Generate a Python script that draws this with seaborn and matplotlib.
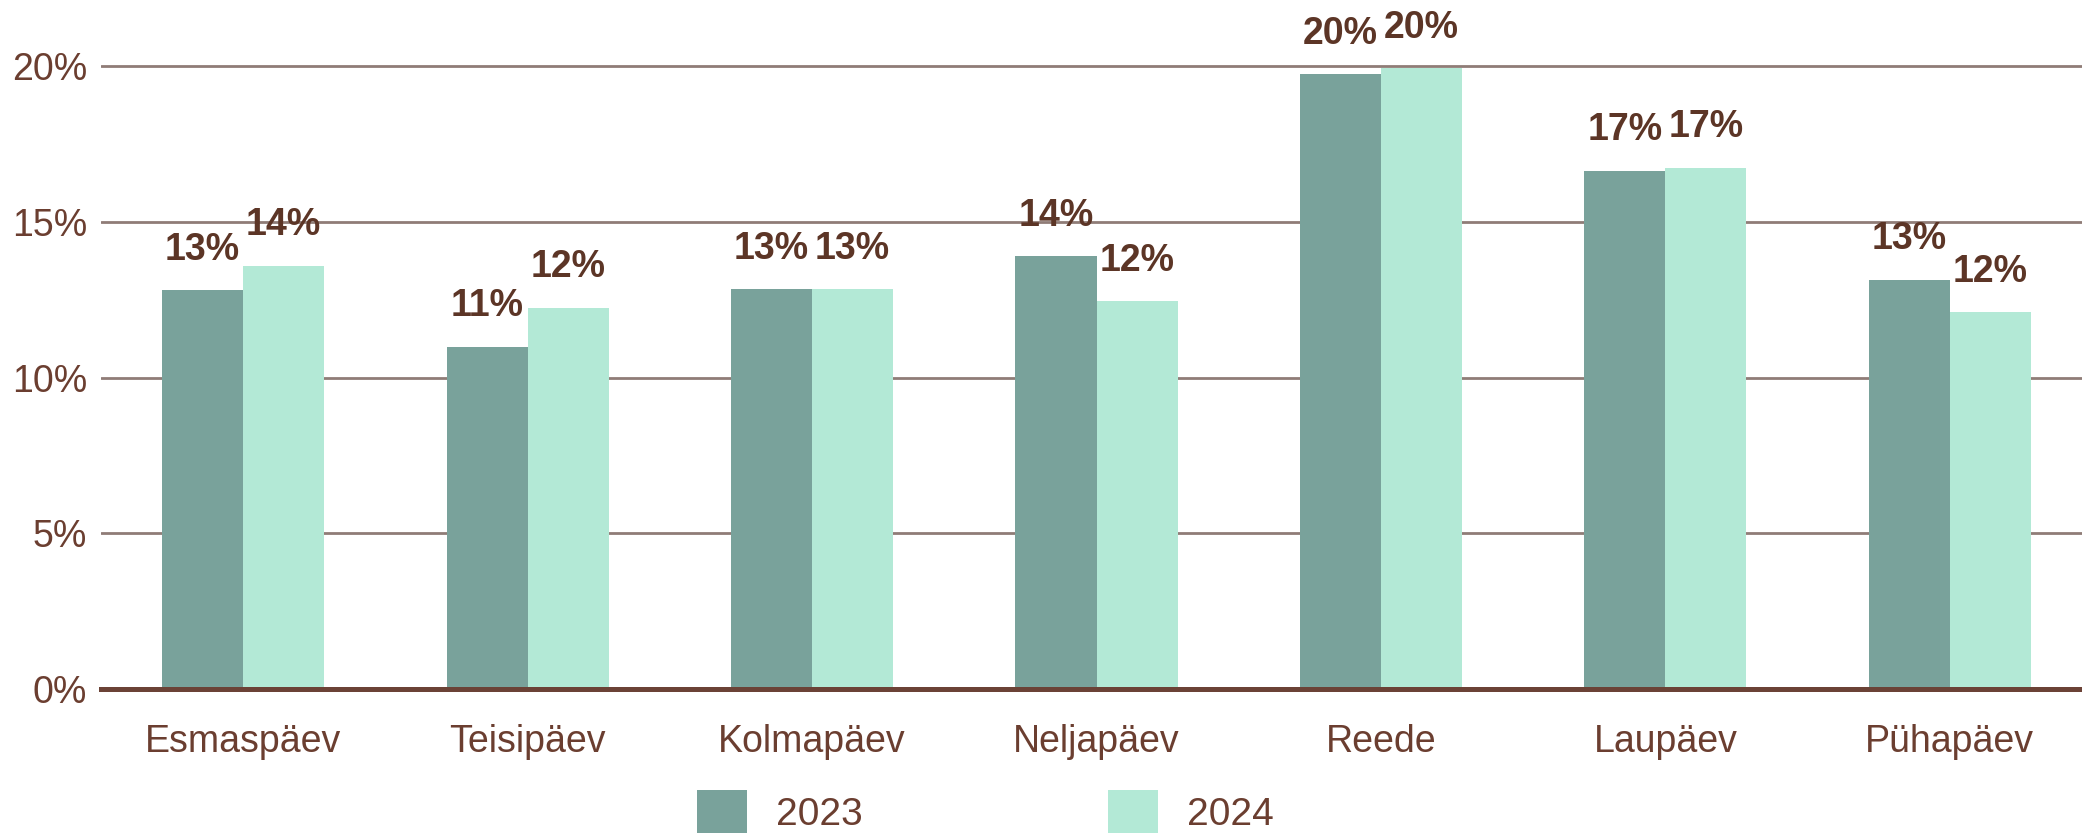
import matplotlib
matplotlib.use("Agg")
import matplotlib.pyplot as plt
import seaborn as sns
import pandas as pd

days = ["Esmaspäev", "Teisipäev", "Kolmapäev", "Neljapäev", "Reede", "Laupäev", "Pühapäev"]
years = ["2023", "2024"]
share_2023 = [12.8, 11.0, 12.85, 13.9, 19.75, 16.65, 13.15]
share_2024 = [13.6, 12.25, 12.85, 12.45, 19.95, 16.75, 12.1]
y_ticks = [0, 5, 10, 15, 20]

c2023 = "#79a29b"
c2024 = "#b3e9d6"
text_col = "#6b3e30"
label_col = "#5c3526"
grid_col = "#8f7c77"
axis_col = "#6b4236"

df = pd.DataFrame({
    "day": days * 2,
    "pct": share_2023 + share_2024,
    "year": [years[0]] * len(days) + [years[1]] * len(days),
})

sns.set_theme(style="white")
plt.rcParams["font.family"] = ["Liberation Sans", "DejaVu Sans"]

fig = plt.figure(figsize=(20.82, 8.33), dpi=100)
ax = fig.add_axes([101 / 2082, 1 - 689 / 833, 1991 / 2082, 689 / 833])

sns.barplot(data=df, x="day", y="pct", hue="year", palette=[c2023, c2024],
            width=0.57, saturation=1, ax=ax, linewidth=0)

handles = ax.legend_.legend_handles
ax.legend_.remove()

for cont in ax.containers:
    ax.bar_label(cont, fmt=lambda v: f"{round(v)}%", padding=16,
                 fontsize=27, fontweight="bold", color=label_col)

ax.set_xlim(-0.5, 6.5)
ax.set_ylim(0, 22.13)
ax.set_yticks(y_ticks)
ax.set_yticklabels([f"{t}%" for t in y_ticks])
ax.set_xlabel("")
ax.set_ylabel("")
ax.set_axisbelow(True)
ax.yaxis.grid(True, color=grid_col, linewidth=2.0)
ax.xaxis.grid(False)
for s in ["left", "right", "top"]:
    ax.spines[s].set_visible(False)
ax.spines["bottom"].set_color(axis_col)
ax.spines["bottom"].set_linewidth(3.6)
ax.tick_params(axis="y", length=0, pad=10, labelsize=27, labelcolor=text_col)
ax.tick_params(axis="x", length=0, pad=25, labelsize=27, labelcolor=text_col)

fs = 28
fig.legend(handles, years, loc="center left", bbox_to_anchor=(697 / 2082, 1 - 812 / 833),
           ncol=2, frameon=False, fontsize=fs, labelcolor=text_col,
           handlelength=50 / (fs * 100 / 72), handleheight=52 / (fs * 100 / 72),
           handletextpad=0.75, columnspacing=6.3, borderpad=0, borderaxespad=0)

fig.savefig("out.png", dpi=100)
